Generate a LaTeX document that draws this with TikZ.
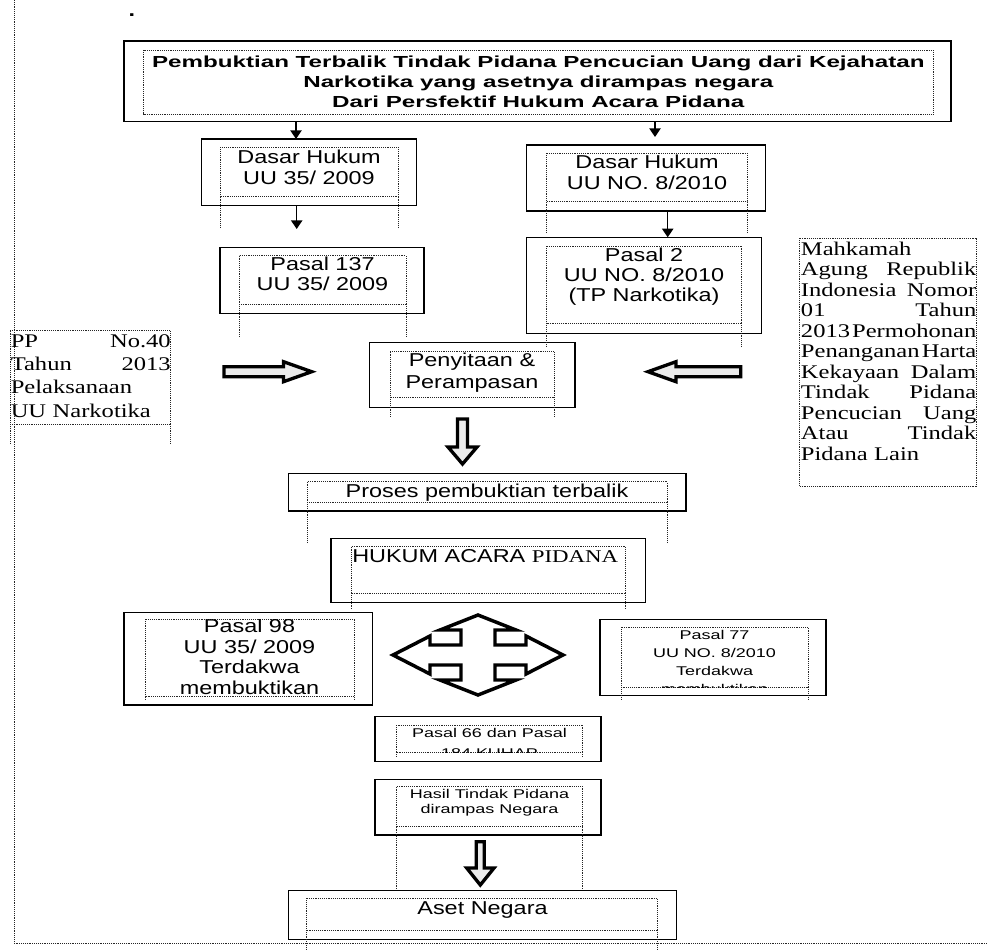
\documentclass[tikz,border=0pt]{standalone}
\usepackage{fontspec}
\setmainfont{Liberation Serif}
\newfontfamily\bigsans[FakeStretch=1.255]{Liberation Sans}
\newfontfamily\smallsans[FakeStretch=1.42]{Liberation Sans}
\newfontfamily\titlesans[FakeStretch=1.51]{Liberation Sans}
\newfontfamily\widserif[FakeStretch=1.27]{Liberation Serif}
\usetikzlibrary{arrows.meta}
\tikzset{>={Triangle[length=6.5pt,width=8.5pt]}}
\tikzset{
  obox/.style 2 args={draw, line width=1.1pt, minimum width=#1*0.75pt, minimum height=#2*0.75pt, inner sep=0pt},
  frm/.style={line width=0.6pt, dash pattern=on 0.6pt off 0.8pt, black!85},
  tittxt/.style={font=\titlesans\bfseries\fontsize{12}{15}\selectfont, align=center, inner sep=0pt, anchor=base},
  bigtxt/.style={font=\bigsans\fontsize{14}{15.4}\selectfont, align=center, inner sep=0pt, anchor=base},
  smalltxt/.style={font=\smallsans\fontsize{9.5}{#1}\selectfont, align=center, inner sep=0pt, anchor=base},
  sertxt/.style={font=\widserif\fontsize{14.5}{#1}\selectfont, align=left, inner sep=0pt, anchor=base west},
  blockarrow/.style={draw, line width=2.5pt, fill=black!8, line join=miter},
  conn/.style={->, line width=1.1pt},
}
% dotted text frame with its two side lines running down
\newcommand\innerframe[5]{\draw[frm] (#1,#2) rectangle (#3,#4); \draw[frm] (#1,#4) -- (#1,#5) (#3,#4) -- (#3,#5);}
% one justified line of two words
\newcommand\jline[2]{\makebox[\linewidth][l]{#1\hfill #2}}

\begin{document}
\begin{tikzpicture}[x=0.75pt, y=-0.75pt]
  \useasboundingbox (0,0) rectangle (988,949);
  \draw[frm] (14,0) -- (14,943) -- (988,943);
  \node[bigtxt, font=\bfseries\bigsans\fontsize{14}{15}\selectfont] (dot) at (132,17) {.};

  % boxes
  \node[obox={827}{80.7}] (title) at (537.5,81.35) {};
  \node[obox={215}{66.7}] (dl) at (309.2,172.35) {};
  \node[obox={204}{66}] (p137) at (322,280.3) {};
  \node[obox={239}{66}] (dr) at (646.2,178) {};
  \node[obox={235}{96}] (p2) at (644.2,285.3) {};
  \node[obox={205.7}{64.6}] (sita) at (472.15,375) {};
  \node[obox={397.7}{37.7}] (proses) at (487.15,492.15) {};
  \node[obox={314.7}{64.4}] (hukum) at (488.35,570.5) {};
  \node[obox={248.5}{92.7}] (p98) at (248.25,658.65) {};
  \node[obox={226}{76.4}] (p77) at (713,657.5) {};
  \node[obox={226}{45}] (p66) at (488,739.2) {};
  \node[obox={226}{55.7}] (hasil) at (488,807.15) {};
  \node[obox={388.4}{48.6}] (aset) at (482.5,915) {};

  % dotted frames
  \innerframe{143.6}{50}{933}{114}{114}
  \innerframe{220}{147.3}{398}{196.7}{228}
  \innerframe{239}{255.7}{406}{304.3}{336.7}
  \innerframe{546.7}{153.3}{747.3}{201.7}{231.7}
  \innerframe{546.7}{246}{741.7}{323.3}{346.7}
  \innerframe{10}{330.7}{170}{424}{442.7}
  \innerframe{390}{351.7}{554}{397.3}{416}
  \innerframe{799.3}{238.3}{976}{486}{486}
  \innerframe{307.3}{481.7}{667.3}{502.3}{541.7}
  \innerframe{351.7}{546.7}{625.7}{593.3}{609}
  \innerframe{145}{619}{354}{696.7}{700}
  \innerframe{621}{627.3}{808.3}{687.3}{700}
  \innerframe{396}{725}{582.7}{752.3}{757}
  \innerframe{396}{786.7}{582.7}{826.7}{890}
  \innerframe{306.7}{898.3}{657.3}{930}{949}

  % texts (centred ones sit on their last line)
  \node[tittxt] (titlet) at (538.3,108) {Pembuktian Terbalik Tindak Pidana Pencucian Uang dari Kejahatan\\Narkotika yang asetnya dirampas negara\\Dari Persfektif Hukum Acara Pidana};
  \node[bigtxt] (dlt) at (309,184) {Dasar Hukum\\UU 35/ 2009};
  \node[bigtxt] (p137t) at (322.5,290.7) {Pasal 137\\UU 35/ 2009};
  \node[bigtxt] (drt) at (647,189.3) {Dasar Hukum\\UU NO. 8/2010};
  \node[bigtxt, font=\bigsans\fontsize{14}{15}\selectfont] (p2t) at (644,301.7) {Pasal 2\\UU NO. 8/2010\\(TP Narkotika)};
  \node[sertxt=17.5, text width=120pt] (ppt) at (10.5,347) {\jline{PP}{No.40}\\\jline{Tahun}{2013}\\Pelaksanaan\\UU Narkotika};
  \node[bigtxt, font=\bigsans\fontsize{14}{16.2}\selectfont] (sitat) at (472,388.3) {Penyitaan \&\\Perampasan};
  \node[sertxt=15.4, text width=131.5pt] (mkt) at (800.7,255) {Mahkamah\\\jline{Agung}{Republik}\\\jline{Indonesia}{Nomor}\\\jline{01}{Tahun}\\\jline{2013}{Permohonan}\\\jline{Penanganan}{Harta}\\\jline{Kekayaan}{Dalam}\\\jline{Tindak}{Pidana}\\\jline{Pencucian}{Uang}\\\jline{Atau}{Tindak}\\Pidana Lain};
  \node[bigtxt] (prosest) at (487,497.3) {Proses pembuktian terbalik};
  \node[bigtxt, anchor=base west] (hukumt) at (352,562.7) {HUKUM ACARA {\widserif\fontsize{13.5}{15}\selectfont PIDANA}};
  \begin{scope}
    \clip (145,619) rectangle (354,696.7);
    \node[bigtxt] (p98t) at (249.5,694.5) {Pasal 98\\UU 35/ 2009\\Terdakwa\\membuktikan};
  \end{scope}
  \begin{scope}
    \clip (621,627.3) rectangle (808.3,687.3);
    \node[smalltxt=13.3] (p77t) at (714.5,693) {Pasal 77\\UU NO. 8/2010\\Terdakwa\\membuktikan};
  \end{scope}
  \begin{scope}
    \clip (396,725) rectangle (582.7,752.3);
    \node[smalltxt=14.3] (p66t) at (489.5,757) {Pasal 66 dan Pasal\\184 KUHAP};
  \end{scope}
  \node[smalltxt=11.5] (hasilt) at (489.5,813.5) {Hasil Tindak Pidana\\dirampas Negara};
  \node[bigtxt] (asett) at (482.5,914.3) {Aset Negara};

  % connectors
  \coordinate (a1) at (296,139);
  \coordinate (a2) at (655,137);
  \coordinate (a3) at (296.7,229);
  \coordinate (a4) at (667.7,237.3);
  \draw[conn] (title.south -| a1) -- (a1);
  \draw[conn] (title.south -| a2) -- (a2);
  \draw[conn] (dl.south -| a3) -- (a3);
  \draw[conn] (dr.south -| a4) -- (a4);

  % block arrows
  \draw[blockarrow] (224,366.7) -- (283.5,366.7) -- (283.5,361.7) -- (311.7,371.7) -- (283.5,381.7) -- (283.5,376.7) -- (224,376.7) -- cycle;
  \draw[blockarrow] (740.7,366.7) -- (676,366.7) -- (676,361.7) -- (648,371.7) -- (676,381.7) -- (676,376.7) -- (740.7,376.7) -- cycle;
  \draw[blockarrow] (457.5,419) -- (467.5,419) -- (467.5,447) -- (477,447) -- (462.5,464) -- (448,447) -- (457.5,447) -- cycle;
  \draw[blockarrow] (476.3,841.7) -- (484.3,841.7) -- (484.3,868) -- (494,868) -- (480.3,885) -- (466.7,868) -- (476.3,868) -- cycle;
  \draw[blockarrow, fill=white, line width=2.6pt, shift={(478,655)}] (0,-40) -- (38,-25) -- (17,-25) -- (17,-10) -- (48,-10) -- (48,-19) -- (85,0)
    -- (48,19) -- (48,10) -- (17,10) -- (17,25) -- (38,25) -- (0,40) -- (-38,25) -- (-17,25) -- (-17,10) -- (-48,10)
    -- (-48,19) -- (-85,0) -- (-48,-19) -- (-48,-10) -- (-17,-10) -- (-17,-25) -- (-38,-25) -- cycle;
\end{tikzpicture}
\end{document}
